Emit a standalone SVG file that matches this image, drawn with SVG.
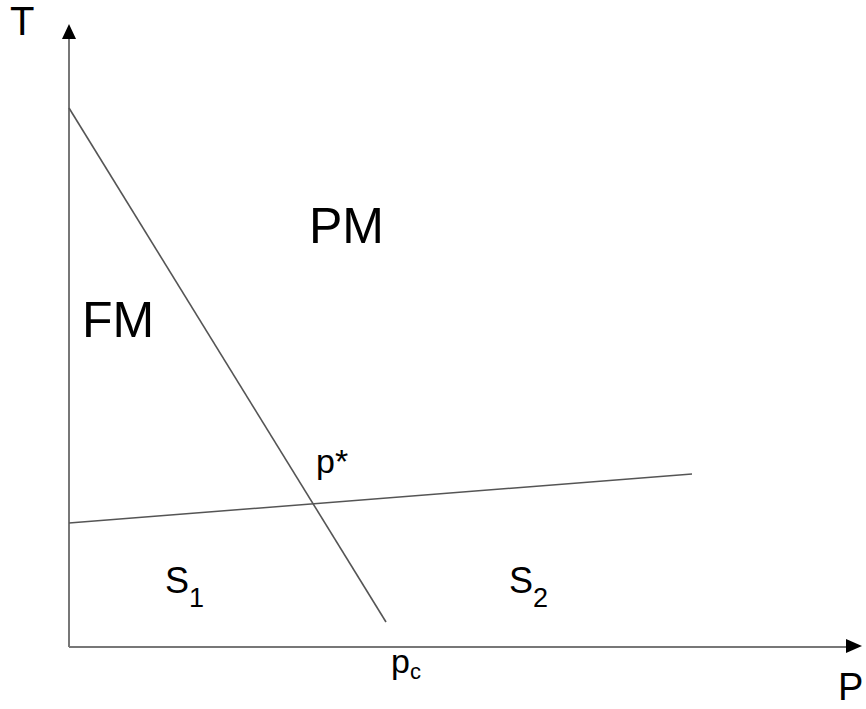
<svg xmlns="http://www.w3.org/2000/svg" width="866" height="709" viewBox="0 0 866 709">
<style>
.ax{stroke:#777;stroke-width:2;fill:none}
.ln{stroke:#555;stroke-width:1.6;fill:none}
.t{font-family:"Liberation Sans",Arial,sans-serif;fill:#000}
</style>
<rect width="866" height="709" fill="#fff"/>
<g id="connectors">
<line class="ax" x1="69" y1="647" x2="69" y2="36"/>
<polygon points="69,24 62,39 76,39" fill="#000"/>
<line class="ax" x1="69" y1="647" x2="850" y2="647"/>
<polygon points="862,646 846,639 846,653" fill="#000"/>
<line class="ln" x1="69" y1="108" x2="386" y2="622"/>
<line class="ln" x1="69" y1="523" x2="692" y2="474"/>
</g>
<g id="T"><text class="t" x="10" y="35" font-size="40">T</text></g>
<g id="P"><text class="t" x="838" y="700" font-size="38">P</text></g>
<g id="PM"><text class="t" x="309" y="243" font-size="50">PM</text></g>
<g id="FM"><text class="t" x="82" y="337" font-size="50">FM</text></g>
<g id="pstar"><text class="t" x="316" y="473" font-size="34">p*</text></g>
<g id="S1"><text class="t" x="165" y="593" font-size="36">S<tspan font-size="27" dy="14">1</tspan></text></g>
<g id="S2"><text class="t" x="509" y="593" font-size="36">S<tspan font-size="27" dy="14">2</tspan></text></g>
<g id="pc"><text class="t" x="391" y="673" font-size="34">p<tspan font-size="22" dy="6">c</tspan></text></g>
</svg>
